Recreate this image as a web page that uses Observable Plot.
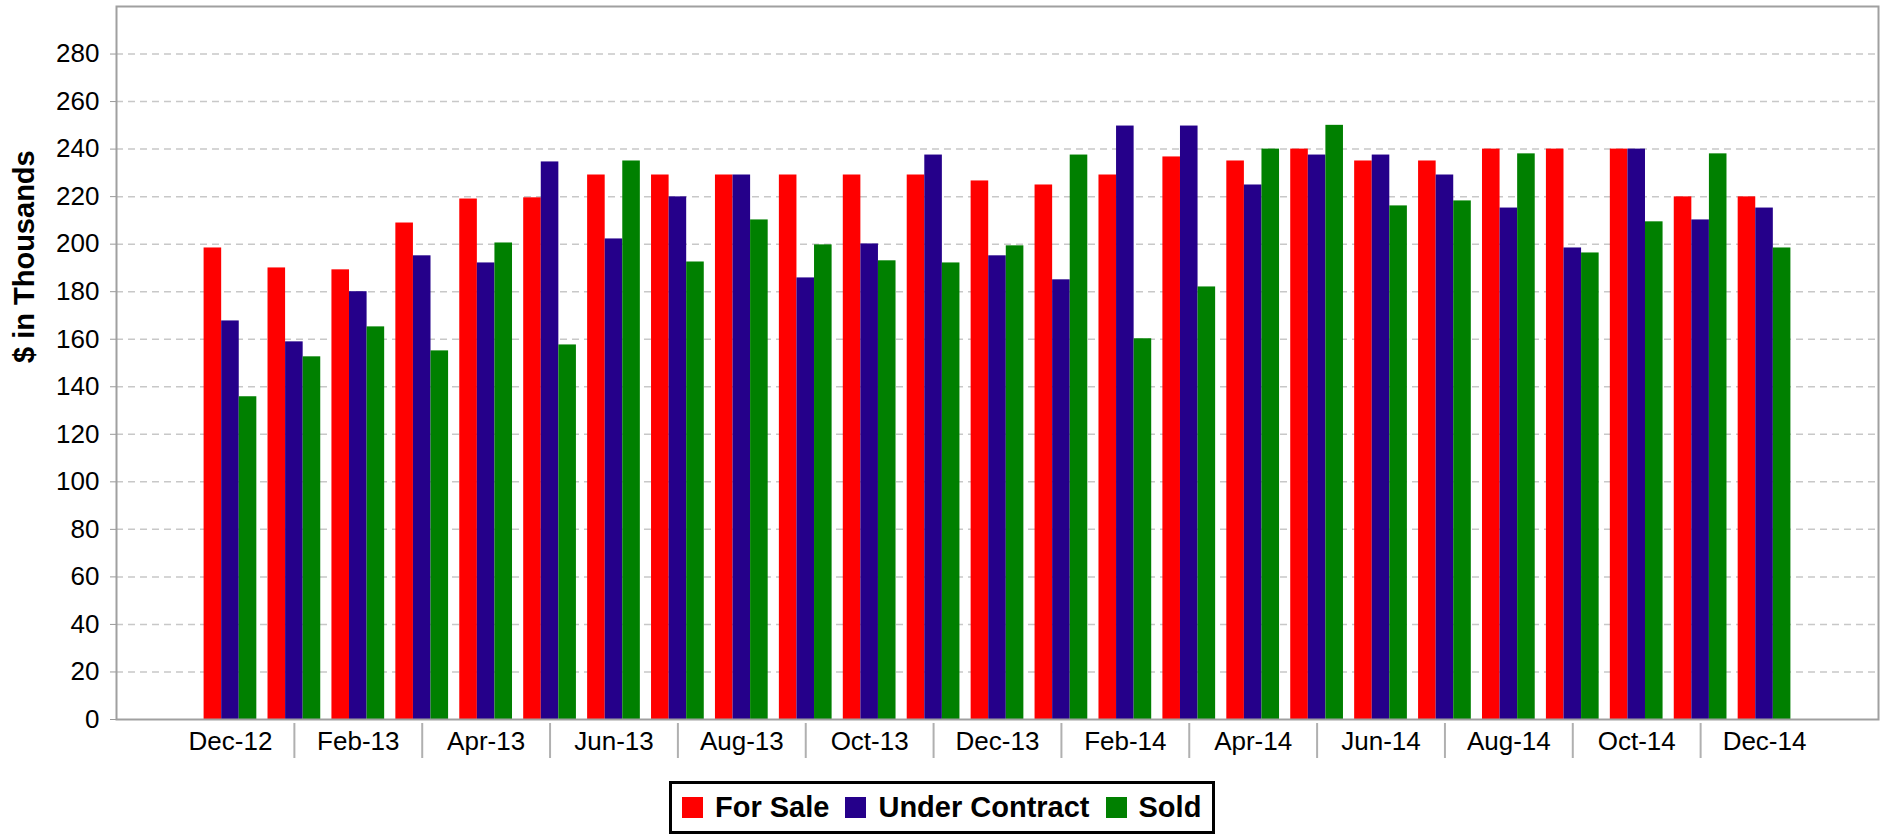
<!DOCTYPE html>
<html>
<head>
<meta charset="utf-8">
<script src="https://cdn.jsdelivr.net/npm/d3@7"></script>
<script src="https://cdn.jsdelivr.net/npm/@observablehq/plot@0.6"></script>
<style>
  html, body { margin: 0; padding: 0; background: #fff; }
  #wrap { position: relative; width: 1888px; height: 835px; font-family: "Liberation Sans", Arial, sans-serif; }
  #chart svg { display: block; }
  [aria-label="y-axis tick"] path, [aria-label="y-axis"] .tick line { stroke: #999; }
  #legend {
    position: absolute; left: 669px; top: 781px; height: 47px;
    border: 3px solid #000; box-sizing: content-box;
    display: flex; align-items: center; padding: 0 11px 0 10px;
    font-weight: bold; font-size: 29px; color: #000; white-space: nowrap;
  }
  #legend .sw { width: 21px; height: 21px; display: inline-block; margin-right: 12px; }
  #legend .item { display: flex; align-items: center; }
  #legend .item + .item { margin-left: 16px; }
</style>
</head>
<body>
<div id="wrap">
  <div id="chart"></div>
  <div id="legend"></div>
</div>
<script>
const months = ["Dec-12","Jan-13","Feb-13","Mar-13","Apr-13","May-13","Jun-13","Jul-13","Aug-13","Sep-13","Oct-13","Nov-13",
  "Dec-13","Jan-14","Feb-14","Mar-14","Apr-14","May-14","Jun-14","Jul-14","Aug-14","Sep-14","Oct-14","Nov-14","Dec-14"];
const seriesNames = ["For Sale", "Under Contract", "Sold"];
const seriesColors = ["#ff0000", "#25008a", "#008000"];
const forSale = [198.4,190,189.2,208.9,219,219.5,229.1,229.1,229.1,229.1,229.1,229.1,226.6,224.9,229.1,236.7,235,240,235,235,240,240,240,219.9,219.9];
const underContract = [167.7,158.9,180,195.1,192.1,234.6,202.2,219.9,229.1,185.8,200.1,237.5,195.1,185,249.7,249.7,224.9,237.5,237.5,229.1,215.2,198.4,240,210.2,215.2];
const sold = [135.8,152.6,165.2,155.1,200.5,157.6,235,192.5,210.2,199.7,193,192.1,199.3,237.5,160.2,182,240,250,216.1,218.2,238,196.3,209.4,238,198.4];
const yTicks = [0,20,40,60,80,100,120,140,160,180,200,220,240,260,280];
const yTitle = "$ in Thousands";

const seriesValues = [forSale, underContract, sold];
const sepMonths = months.filter((d, i) => i % 2 === 1);

const W = 1888, H = 770, mT = 6, mB = 51, mL = 116, mR = 10;
const frameH = H - mT - mB;
const padInner = 0.175;

function options(marks) {
  return {
    width: W, height: H,
    marginTop: mT, marginBottom: mB, marginLeft: mL, marginRight: mR,
    style: { fontFamily: '"Liberation Sans", Arial, sans-serif', fontSize: "26px", color: "#000", background: "#fff" },
    x: {
      domain: months, paddingInner: padInner, paddingOuter: padInner / 2, round: false,
      insetLeft: 82, insetRight: 82,
      tickSize: 0, tickPadding: 12, label: null,
      tickFormat: d => months.indexOf(d) % 2 === 0 ? d : ""
    },
    y: { domain: [0, 300], ticks: yTicks, tickSize: 6, tickPadding: 11, label: null },
    marks
  };
}

// probe the library's own x scale to get the band width
const probe = Plot.plot(options([Plot.barY(months, { x: d => d, y: d => 0 })]));
const sx = probe.scale("x");
let bandW = sx && typeof sx.bandwidth === "number" ? sx.bandwidth : NaN;
if (!(bandW > 0)) {
  const step = sx.apply(months[1]) - sx.apply(months[0]);
  bandW = step * (1 - padInner);
}
const barW = bandW / 3;

const marks = [
  Plot.ruleY(yTicks.filter(v => v > 0), { stroke: "#c8c8c8", strokeWidth: 1.5, strokeDasharray: "7,5" }),
  ...seriesValues.map((vals, s) =>
    Plot.barY(months.map((m, i) => ({ month: m, value: vals[i] })), {
      x: "month", y1: 0, y2: "value", fill: seriesColors[s],
      insetLeft: s * barW, insetRight: (2 - s) * barW
    })
  ),
  Plot.frame({ stroke: "#a0a0a0", strokeWidth: 2 }),
  Plot.ruleX(sepMonths, { x: d => d, stroke: "#b0b0b0", strokeWidth: 2, insetTop: frameH + 4, insetBottom: -39 }),
  Plot.text([yTitle], { frameAnchor: "left", rotate: -90, dx: -92, fontSize: 29, fontWeight: "bold", fill: "#000" })
];

const chart = Plot.plot(options(marks));
document.getElementById("chart").appendChild(chart);

const legend = document.getElementById("legend");
seriesNames.forEach((name, i) => {
  const item = document.createElement("span");
  item.className = "item";
  const sw = document.createElement("span");
  sw.className = "sw";
  sw.style.background = seriesColors[i];
  item.appendChild(sw);
  item.appendChild(document.createTextNode(name));
  legend.appendChild(item);
});
</script>
</body>
</html>
